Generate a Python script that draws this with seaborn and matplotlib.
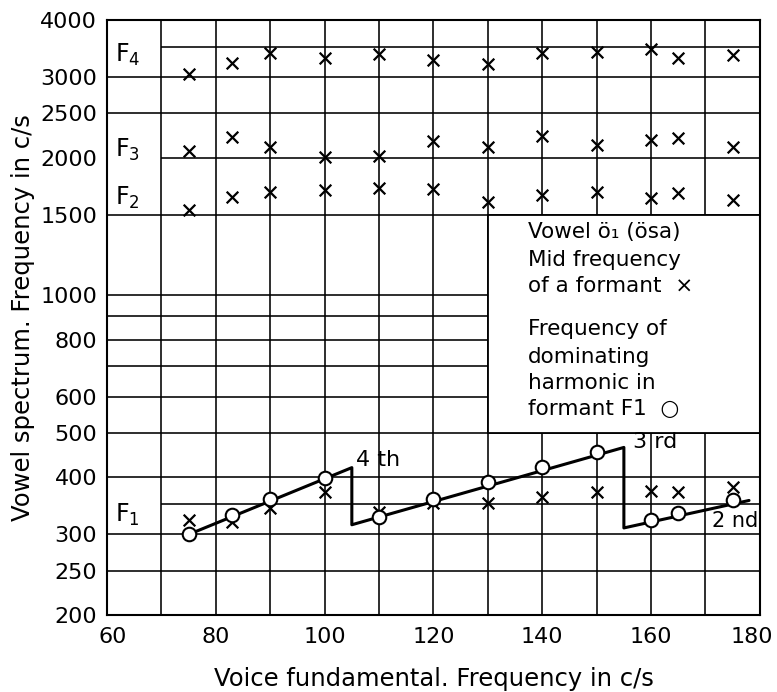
import matplotlib
matplotlib.use("Agg")
import matplotlib.pyplot as plt
import matplotlib.transforms as mtrans
import seaborn as sns
import pandas as pd
from matplotlib.patches import Rectangle

# ---------------- data ----------------
f0 = [75, 83, 90, 100, 110, 120, 130, 140, 150, 160, 165, 175]
F1 = [323, 320, 342, 372, 336, 351, 351, 363, 372, 374, 372, 381]
F2 = [1536, 1638, 1685, 1700, 1715, 1705, 1597, 1657, 1685, 1630, 1672, 1617]
F3 = [2072, 2223, 2114, 2011, 2017, 2176, 2114, 2231, 2132, 2187, 2205, 2114]
F4 = [3048, 3218, 3393, 3299, 3365, 3272, 3206, 3385, 3410, 3450, 3300, 3355]
harmonic = [300, 331, 358, 399, 328, 358, 391, 422, 455, 323, 334, 357]

# dominating-harmonic curve (4th, 3rd, 2nd harmonic segments)
line_f0 = [75, 105, 105, 155, 155, 178]
line_freq = [300, 420, 315, 465, 310, 356]

x_ticks = [60, 80, 100, 120, 140, 160, 180]
y_ticks = [200, 250, 300, 400, 500, 600, 800, 1000, 1500, 2000, 2500, 3000, 4000]
y_tick_labels = ["200", "250", "300", "400", "500", "600", "800", "1000",
                 "1500", "2000", "2500", "3000", "4000"]
formant_labels = ["F$_4$", "F$_3$", "F$_2$", "F$_1$"]
harmonic_labels = ["4 th", "3 rd", "2 nd"]
legend_lines_a = ["Vowel ö₁ (ösa)", "Mid frequency", "of a formant  ×"]
legend_lines_b = ["Frequency of", "dominating", "harmonic in", "formant F1  ○"]

# ---------------- style ----------------
sns.set_theme(style="white")
plt.rcParams["font.family"] = ["DejaVu Sans"]
plt.rcParams["mathtext.default"] = "regular"

fig = plt.figure(figsize=(7.77, 6.92), dpi=100)
ax = fig.add_axes([0.1377, 0.1113, 0.978 - 0.1377, 0.9711 - 0.1113])
ax.set_yscale("log")
ax.set_xlim(60, 180)
ax.set_ylim(200, 4000)

# grid
gw = 1.15
full_levels = [250, 300, 400, 500, 600, 700, 800, 900, 1000, 1500, 2500, 3000]
part_levels = [350, 2000, 3500]
ax.hlines(full_levels, 60, 180, color="black", lw=gw, zorder=1)
ax.hlines(part_levels, 70, 180, color="black", lw=gw, zorder=1)
ax.vlines(list(range(70, 180, 10)), 200, 4000, color="black", lw=gw, zorder=1)

# legend box (covers grid)
ax.add_patch(Rectangle((130, 500), 50, 1000, facecolor="white",
                       edgecolor="black", lw=1.3, zorder=2))

# data
form_df = pd.DataFrame({
    "f0": f0 * 4,
    "freq": F1 + F2 + F3 + F4,
})
sns.scatterplot(data=form_df, x="f0", y="freq", marker="x", color="black",
                s=70, linewidth=1.6, ax=ax, zorder=4, legend=False)

line_df = pd.DataFrame({"f0": line_f0, "freq": line_freq})
sns.lineplot(data=line_df, x="f0", y="freq", sort=False, color="black",
             lw=2.2, ax=ax, zorder=3, estimator=None)

harm_df = pd.DataFrame({"f0": f0, "freq": harmonic})
sns.scatterplot(data=harm_df, x="f0", y="freq", marker="o", facecolor="white",
                edgecolor="black", s=95, linewidth=1.5, ax=ax, zorder=5,
                legend=False)

# axes
ax.set_xticks(x_ticks)
ax.set_xticklabels([str(v) for v in x_ticks])
ax.set_yticks(y_ticks)
ax.set_yticklabels(y_tick_labels)
ax.minorticks_off()
ax.tick_params(axis="both", length=0, labelsize=16, colors="black")
ax.tick_params(axis="x", pad=9)
ax.tick_params(axis="y", pad=7)
for sp in ax.spines.values():
    sp.set_color("black")
    sp.set_linewidth(1.5)

# keep the end labels inside the canvas like the reference
xlabels = ax.get_xticklabels()
xlabels[-1].set_transform(xlabels[-1].get_transform() +
                          mtrans.ScaledTranslation(-6 / 72, 0, fig.dpi_scale_trans))
xlabels[0].set_transform(xlabels[0].get_transform() +
                         mtrans.ScaledTranslation(4 / 72, 0, fig.dpi_scale_trans))

ax.set_xlabel("Voice fundamental. Frequency in c/s", fontsize=17.5,
              color="black", labelpad=14)
ax.set_ylabel("Vowel spectrum. Frequency in c/s", fontsize=17.5,
              color="black", labelpad=4)

# formant labels
tk = dict(fontsize=17, color="black", va="center", ha="left", zorder=6)
ax.text(61.5, 3355, formant_labels[0], **tk)
ax.text(61.5, 2079, formant_labels[1], **tk)
ax.text(61.5, 1633, formant_labels[2], **tk)
ax.text(61.5, 331, formant_labels[3], **tk)

# harmonic number labels
hk = dict(fontsize=16, color="black", va="center", ha="left", zorder=6)
ax.text(105.7, 436, harmonic_labels[0], **hk)
ax.text(156.7, 478, harmonic_labels[1], **hk)
ax.text(171.2, 321, harmonic_labels[2], fontsize=15, color="black",
        va="center", ha="left", zorder=6)

# legend text
lk = dict(fontsize=15.5, color="black", va="center", ha="left", zorder=6)
for txt, yv in zip(legend_lines_a, [1376, 1195, 1048]):
    ax.text(137.3, yv, txt, **lk)
for txt, yv in zip(legend_lines_b, [844, 733, 643, 564]):
    ax.text(137.3, yv, txt, **lk)

fig.savefig("out.png", dpi=100)
